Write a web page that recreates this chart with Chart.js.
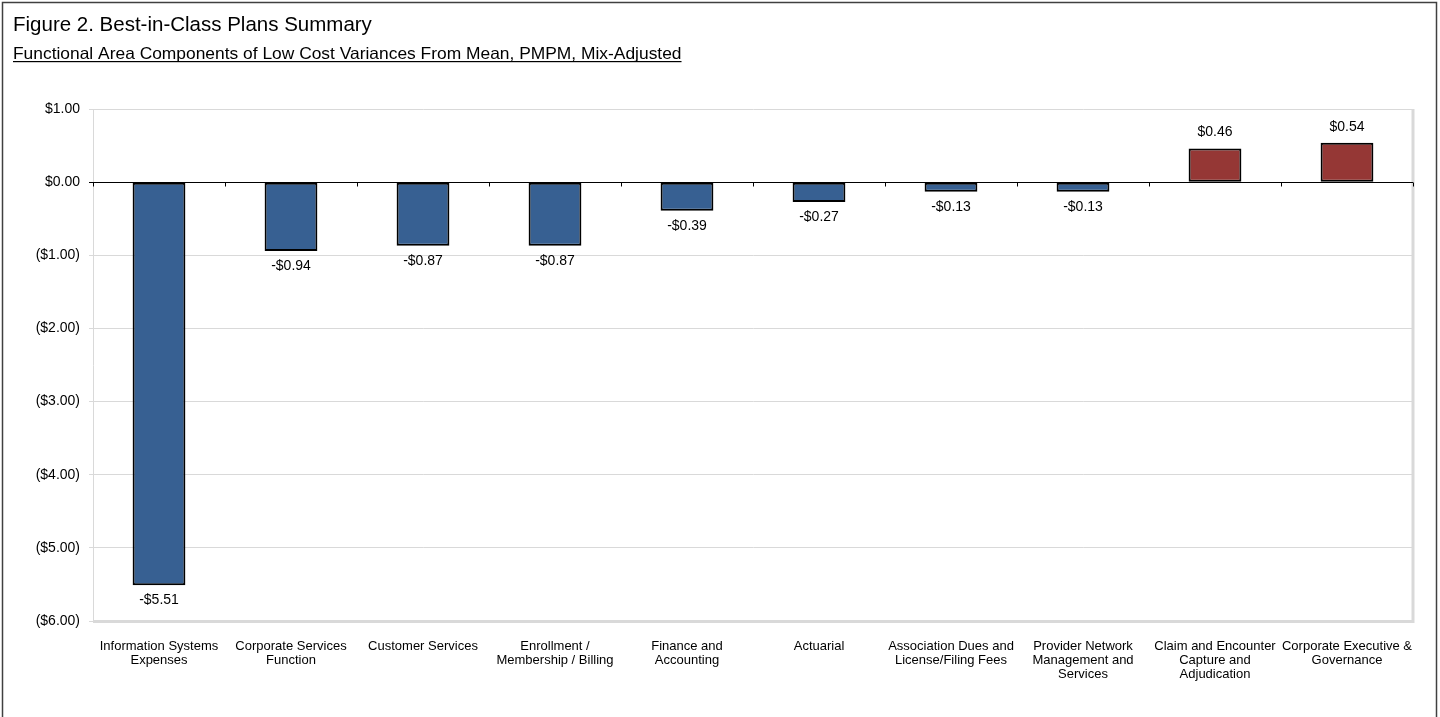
<!DOCTYPE html>
<html><head><meta charset="utf-8">
<script src="https://cdn.jsdelivr.net/npm/chart.js@4/dist/chart.umd.min.js"></script>
<style>html,body{margin:0;padding:0;background:#fff;}canvas{display:block;}</style>
</head><body>
<canvas id="c" width="1440" height="717"></canvas>
<script>
const categories = [
  ["Information Systems","Expenses"],
  ["Corporate Services","Function"],
  ["Customer Services"],
  ["Enrollment /","Membership / Billing"],
  ["Finance and","Accounting"],
  ["Actuarial"],
  ["Association Dues and","License/Filing Fees"],
  ["Provider Network","Management and","Services"],
  ["Claim and Encounter","Capture and","Adjudication"],
  ["Corporate Executive &","Governance"]
];
const variances = [-5.51, -0.94, -0.87, -0.87, -0.39, -0.27, -0.13, -0.13, 0.46, 0.54];
const yTicks = [1, 0, -1, -2, -3, -4, -5, -6];
const titleText = "Figure 2. Best-in-Class Plans Summary";
const subtitleText = "Functional Area Components of Low Cost Variances From Mean, PMPM, Mix-Adjusted";

const BLUE = "#376092", RED = "#953735";
const FONT = "'Liberation Sans', Arial, sans-serif";

function fmtTick(v){ return v < 0 ? "($" + Math.abs(v).toFixed(2) + ")" : "$" + v.toFixed(2); }
function fmtLabel(v){ return (v < 0 ? "-$" : "$") + Math.abs(v).toFixed(2); }

const decor = {
  id: "decor",
  beforeDraw(chart){
    const ctx = chart.ctx;
    ctx.save();
    ctx.fillStyle = "#fff";
    ctx.fillRect(0,0,chart.width,chart.height);
    ctx.restore();
  },
  afterDraw(chart){
    const ctx = chart.ctx, a = chart.chartArea;
    const y = chart.scales.y;
    ctx.save();
    // outer border
    ctx.strokeStyle = "#404040"; ctx.lineWidth = 1.5;
    ctx.strokeRect(2.5, 2.5, 1434, 760);
    // titles
    ctx.fillStyle = "#000"; ctx.textBaseline = "alphabetic"; ctx.textAlign = "left";
    ctx.font = "20.5px " + FONT;
    ctx.fillText(titleText, 13, 31);
    ctx.font = "17.4px " + FONT;
    ctx.save();
    ctx.scale(1, 0.9);
    ctx.fillText(subtitleText, 13, 59 / 0.9);
    ctx.restore();
    const w = ctx.measureText(subtitleText).width;
    ctx.fillRect(13, 61, w, 1.2);
    // plot area border (right & bottom)
    ctx.strokeStyle = "#d9d9d9"; ctx.lineWidth = 3;
    ctx.beginPath();
    ctx.moveTo(a.right, a.top); ctx.lineTo(a.right, a.bottom + 1.5);
    ctx.moveTo(a.left, a.bottom + 0.5); ctx.lineTo(a.right + 1.5, a.bottom + 0.5);
    ctx.stroke();
    // zero line with ticks
    const y0 = Math.round(y.getPixelForValue(0)) + 0.5;
    ctx.strokeStyle = "#000"; ctx.lineWidth = 1;
    ctx.beginPath();
    ctx.moveTo(a.left - 4, y0); ctx.lineTo(a.right, y0);
    const n = categories.length, step = (a.right - a.left) / n;
    for (let i = 0; i <= n; i++){
      const px = Math.round(a.left + i*step) + 0.5;
      ctx.moveTo(px, y0); ctx.lineTo(px, y0 + 4);
    }
    ctx.stroke();
    // data labels
    const meta = chart.getDatasetMeta(0);
    ctx.font = "14px " + FONT; ctx.textAlign = "center"; ctx.textBaseline = "middle"; ctx.fillStyle = "#000";
    meta.data.forEach((bar, i) => {
      const v = variances[i];
      const ly = v < 0 ? bar.y + 15 : bar.y - 16;
      ctx.fillText(fmtLabel(v), bar.x, ly);
    });
    ctx.restore();
  }
};

new Chart(document.getElementById("c"), {
  type: "bar",
  data: {
    labels: categories,
    datasets: [{
      data: variances,
      backgroundColor: variances.map(v => v < 0 ? BLUE : RED),
      borderColor: "#000",
      borderWidth: 2,
      borderSkipped: false,
      barPercentage: 0.4,
      categoryPercentage: 1.0
    }]
  },
  options: {
    responsive: false,
    animation: false,
    devicePixelRatio: 1,
    layout: { padding: { top: 109, left: 0, right: 27, bottom: 0 } },
    plugins: { legend: { display: false }, tooltip: { enabled: false } },
    scales: {
      y: {
        min: -6, max: 1,
        afterFit(s){ s.width = 93; },
        afterBuildTicks(s){ s.ticks = yTicks.map(v => ({value: v})); },
        ticks: { callback: v => fmtTick(v), color: "#000", font: { family: FONT, size: 14 }, padding: 9 },
        grid: { color: "#d9d9d9", lineWidth: 1, tickLength: 4, drawTicks: true, tickColor: "#d9d9d9" },
        border: { display: true, color: "#d9d9d9", width: 1 }
      },
      x: {
        afterFit(s){ s.height = 96; },
        ticks: { color: "#000", font: { family: FONT, size: 13, lineHeight: 1.1 }, padding: 18, maxRotation: 0, autoSkip: false },
        grid: { display: false, drawTicks: false },
        border: { display: false }
      }
    }
  },
  plugins: [decor]
});
</script>
</body></html>
